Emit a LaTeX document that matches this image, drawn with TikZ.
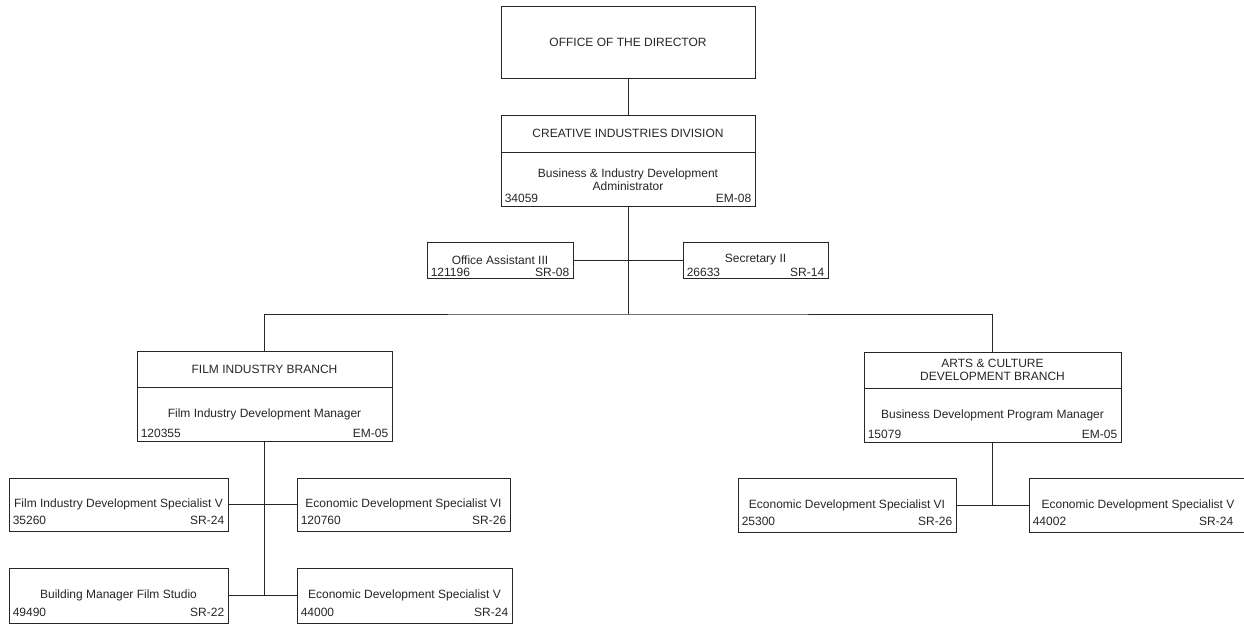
\documentclass[tikz,border=0pt]{standalone}
\usepackage{fontspec}
\setmainfont{Liberation Sans}
\usetikzlibrary{positioning}

\begin{document}
\begin{tikzpicture}[x=1pt, y=-1pt,
    every node/.style={font=\fontsize{12}{14}\selectfont, text=black!85},
    box/.style={draw=black!85, line width=0.8pt, inner sep=0pt, align=center},
    num/.style={inner xsep=4pt, inner ysep=4pt},
    link/.style={draw=black!85, line width=0.8pt}]
    \useasboundingbox (0,0) rectangle (1244,626);

    \node [box, minimum width=254pt, minimum height=72pt] (dir) at (628,42) {OFFICE OF THE DIRECTOR};

    \node [box, minimum width=254pt, minimum height=37pt] (cidt) at (628,133.5) {CREATIVE INDUSTRIES DIVISION};
    \node [box, minimum width=254pt, minimum height=54pt, below=0pt of cidt] (cidb) {Business \& Industry Development\\[-1pt]Administrator};
    \node [num, anchor=south west] (cidn) at (cidb.south west) {34059};
    \node [num, anchor=south east] (cidg) at (cidb.south east) {EM-08};

    \node [box, minimum width=146pt, minimum height=36pt] (oa) at (500,260) {Office Assistant III};
    \node [num, anchor=south west, inner ysep=1.5pt] (oan) at (oa.south west) {121196};
    \node [num, anchor=south east, inner ysep=1.5pt] (oag) at (oa.south east) {SR-08};

    \node [box, minimum width=145pt, minimum height=36pt] (sec) at (755.5,260) {Secretary II};
    \node [num, anchor=south west, inner ysep=1.5pt] (secn) at (sec.south west) {26633};
    \node [num, anchor=south east, inner ysep=1.5pt] (secg) at (sec.south east) {SR-14};

    \node [box, minimum width=255pt, minimum height=36pt] (filmt) at (264.5,369) {FILM INDUSTRY BRANCH};
    \node [box, minimum width=255pt, minimum height=54pt, below=0pt of filmt] (filmb) {Film Industry Development Manager};
    \node [num, anchor=south west] (filmn) at (filmb.south west) {120355};
    \node [num, anchor=south east] (filmg) at (filmb.south east) {EM-05};

    \node [box, minimum width=257pt, minimum height=36pt] (artst) at (992.5,370) {ARTS \& CULTURE\\[-1pt]DEVELOPMENT BRANCH};
    \node [box, minimum width=257pt, minimum height=54pt, below=0pt of artst] (artsb) {Business Development Program Manager};
    \node [num, anchor=south west] (artsn) at (artsb.south west) {15079};
    \node [num, anchor=south east] (artsg) at (artsb.south east) {EM-05};

    \node [box, minimum width=219pt, minimum height=53pt] (fs1) at (118.5,504.5) {Film Industry Development Specialist V};
    \node [num, anchor=south west, inner ysep=7pt] (fs1n) at (fs1.south west) {35260};
    \node [num, anchor=south east, inner ysep=7pt] (fs1g) at (fs1.south east) {SR-24};

    \node [box, minimum width=213pt, minimum height=53pt] (fs2) at (403.5,504.5) {Economic Development Specialist VI};
    \node [num, anchor=south west, inner ysep=7pt] (fs2n) at (fs2.south west) {120760};
    \node [num, anchor=south east, inner ysep=7pt] (fs2g) at (fs2.south east) {SR-26};

    \node [box, minimum width=219pt, minimum height=55pt] (fs3) at (118.5,595.5) {Building Manager Film Studio};
    \node [num, anchor=south west, inner ysep=7pt] (fs3n) at (fs3.south west) {49490};
    \node [num, anchor=south east, inner ysep=7pt] (fs3g) at (fs3.south east) {SR-22};

    \node [box, minimum width=215pt, minimum height=55pt] (fs4) at (404.5,595.5) {Economic Development Specialist V};
    \node [num, anchor=south west, inner ysep=7pt] (fs4n) at (fs4.south west) {44000};
    \node [num, anchor=south east, inner ysep=7pt] (fs4g) at (fs4.south east) {SR-24};

    \node [box, minimum width=218pt, minimum height=54pt] (as1) at (847,505) {Economic Development Specialist VI};
    \node [num, anchor=south west, inner ysep=7pt] (as1n) at (as1.south west) {25300};
    \node [num, anchor=south east, inner ysep=7pt] (as1g) at (as1.south east) {SR-26};

    \node [box, minimum width=218pt, minimum height=54pt] (as2) at (1138,505) {Economic Development Specialist V};
    \node [num, anchor=south west, inner ysep=7pt] (as2n) at (as2.south west) {44002};
    \node [num, anchor=south east, inner ysep=7pt, xshift=-10pt] (as2g) at (as2.south east) {SR-24};

    \coordinate (bus) at (628,314);
    \coordinate (fjoin) at (264.5,595.5);
    \coordinate (ajoin) at (992.5,505);

    \draw [link] (dir) -- (cidt);
    \draw [link] (cidb) -- (bus);
    \draw [link] (oa) -- (sec);
    \draw [link] (filmt) |- (bus) -| (artst);
    \draw [link] (filmb) -- (fjoin);
    \draw [link] (fs1) -- (fs2);
    \draw [link] (fs3) -- (fs4);
    \draw [link] (artsb) -- (ajoin);
    \draw [link] (as1) -- (as2);
\end{tikzpicture}
\end{document}
